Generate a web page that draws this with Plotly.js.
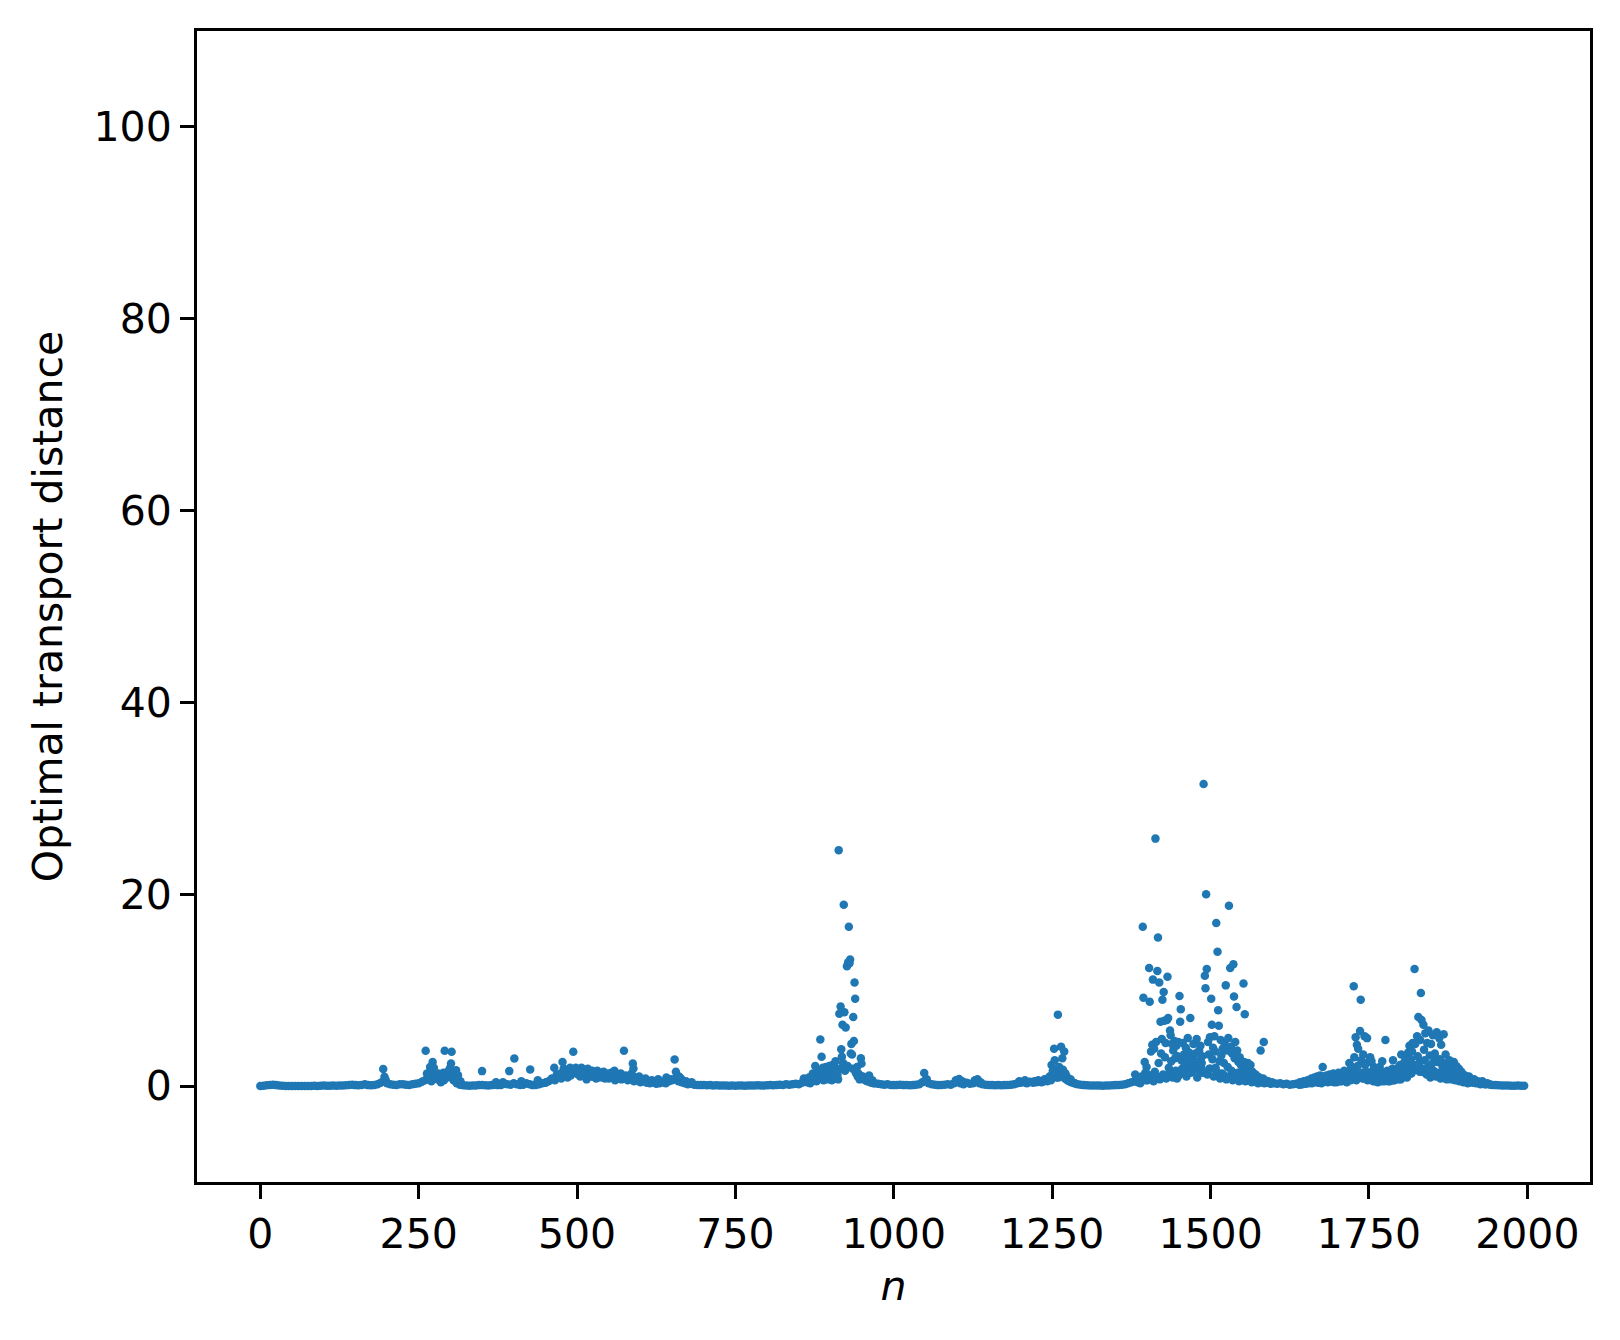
<!DOCTYPE html>
<html>
<head>
<meta charset="utf-8">
<script src="https://cdn.plot.ly/plotly-3.0.1.min.js"></script>
<style>html,body{margin:0;padding:0;background:#fff;}#chart{width:1620px;height:1340px;}</style>
</head>
<body>
<div id="chart"></div>
<script>
// [n, optimal transport distance] pairs
const baseline = [
[0,0.02],[5,0.03],[10,0.08],[15,0.12],[20,0.15],[25,0.1],[30,0.05],[35,0.03],[40,0.02],[45,0.02],
[50,0.01],[55,0.02],[60,0.02],[65,0.01],[70,0.02],[75,0.01],[80,0.02],[85,0.03],[90,0.02],[95,0.03],
[100,0.05],[105,0.04],[110,0.03],[115,0.05],[120,0.04],[125,0.06],[130,0.05],[135,0.08],[140,0.12],[145,0.15],
[150,0.1],[155,0.08],[160,0.12],[165,0.18],[170,0.1],[175,0.08],[180,0.12],[185,0.2],[190,0.35],[195,0.55],
[200,0.3],[205,0.2],[210,0.15],[215,0.12],[220,0.2],[225,0.18],[230,0.15],[235,0.12],[240,0.2],[245,0.25],
[250,0.3],[255,0.45],[260,0.6],[265,0.8],[270,0.5],[275,0.9],[280,0.7],[285,0.4],[290,0.6],[295,0.9],
[300,1.0],[305,0.6],[310,0.3],[315,0.15],[320,0.08],[325,0.05],[330,0.04],[335,0.05],[340,0.06],[345,0.1],
[350,0.12],[355,0.08],[360,0.05],[365,0.1],[370,0.15],[375,0.1],[380,0.12],[385,0.25],[390,0.2],[395,0.15],
[400,0.3],[405,0.2],[410,0.12],[415,0.15],[420,0.3],[425,0.2],[430,0.1],[435,0.12],[440,0.2],[445,0.3],
[450,0.35],[455,0.5],[460,0.8],[465,0.6],[470,1.0],[475,0.8],[480,1.2],[485,0.9],[490,1.1],[495,1.4],
[500,1.3],[505,1.0],[510,1.5],[515,0.7],[520,1.2],[525,1.0],[530,0.8],[535,1.2],[540,0.9],[545,1.1],
[550,0.8],[555,1.3],[560,0.6],[565,1.0],[570,0.7],[575,0.9],[580,0.6],[585,0.8],[590,0.5],[595,0.6],
[600,0.4],[605,0.5],[610,0.35],[615,0.3],[620,0.4],[625,0.25],[630,0.3],[635,0.4],[640,0.3],[645,0.5],
[650,0.6],[655,0.8],[660,0.5],[665,0.4],[670,0.3],[675,0.2],[680,0.25],[685,0.15],[690,0.12],[695,0.1],
[700,0.12],[705,0.08],[710,0.1],[715,0.06],[720,0.08],[725,0.05],[730,0.06],[735,0.05],[740,0.04],[745,0.05],
[750,0.04],[755,0.05],[760,0.06],[765,0.04],[770,0.05],[775,0.06],[780,0.05],[785,0.08],[790,0.06],[795,0.05],
[800,0.08],[805,0.1],[810,0.08],[815,0.12],[820,0.15],[825,0.12],[830,0.18],[835,0.15],[840,0.2],[845,0.25],
[850,0.2],[855,0.35],[860,0.5],[865,0.4],[870,0.6],[875,0.9],[880,0.7],[885,1.2],[890,0.9],[895,1.6],
[900,1.3],[905,2.0],[910,1.5],[915,1.8],[920,2.4],[925,1.9],[930,12.8],[935,1.8],[940,1.4],[945,1.0],
[950,0.8],[955,0.6],[960,0.5],[965,0.35],[970,0.3],[975,0.25],[980,0.2],[985,0.15],[990,0.2],[995,0.12],
[1000,0.1],[1005,0.12],[1010,0.15],[1015,0.1],[1020,0.12],[1025,0.08],[1030,0.1],[1035,0.15],[1040,0.2],[1045,0.4],
[1050,0.6],[1055,0.3],[1060,0.2],[1065,0.15],[1070,0.1],[1075,0.12],[1080,0.15],[1085,0.2],[1090,0.15],[1095,0.3],
[1100,0.5],[1105,0.3],[1110,0.2],[1115,0.35],[1120,0.25],[1125,0.3],[1130,0.45],[1135,0.3],[1140,0.2],[1145,0.15],
[1150,0.12],[1155,0.1],[1160,0.08],[1165,0.1],[1170,0.08],[1175,0.1],[1180,0.12],[1185,0.15],[1190,0.2],[1195,0.3],
[1200,0.35],[1205,0.4],[1210,0.3],[1215,0.45],[1220,0.35],[1225,0.4],[1230,0.5],[1235,0.45],[1240,0.6],[1245,0.8],
[1250,1.2],[1255,1.0],[1260,0.9],[1265,1.4],[1270,0.8],[1275,0.6],[1280,0.4],[1285,0.3],[1290,0.2],[1295,0.15],
[1300,0.1],[1305,0.08],[1310,0.06],[1315,0.05],[1320,0.06],[1325,0.05],[1330,0.04],[1335,0.05],[1340,0.06],[1345,0.08],
[1350,0.1],[1355,0.12],[1360,0.15],[1365,0.2],[1370,0.3],[1375,0.4],[1380,0.5],[1385,0.4],[1390,0.6],[1395,0.8],
[1400,0.6],[1405,0.9],[1410,0.5],[1415,1.0],[1420,0.7],[1425,1.2],[1430,0.8],[1435,1.4],[1440,0.9],[1445,1.6],
[1450,1.1],[1455,1.8],[1460,1.3],[1465,2.0],[1470,1.5],[1475,2.2],[1480,1.7],[1485,2.0],[1490,1.4],[1495,1.2],
[1500,1.8],[1505,1.0],[1510,1.5],[1515,0.8],[1520,1.2],[1525,0.7],[1530,1.0],[1535,0.6],[1540,0.9],[1545,0.5],
[1550,0.8],[1555,0.5],[1560,0.6],[1565,0.4],[1570,0.5],[1575,0.3],[1580,0.4],[1585,0.3],[1590,0.35],[1595,0.25],
[1600,0.3],[1605,0.25],[1610,0.3],[1615,0.2],[1620,0.25],[1625,0.15],[1630,0.2],[1635,0.25],[1640,0.15],[1645,0.2],
[1650,0.25],[1655,0.3],[1660,0.3],[1665,0.4],[1670,0.35],[1675,0.3],[1680,0.45],[1685,0.4],[1690,0.5],[1695,0.4],
[1700,0.6],[1705,0.5],[1710,0.6],[1715,0.4],[1720,0.7],[1725,0.9],[1730,0.6],[1735,1.1],[1740,0.8],[1745,1.0],
[1750,0.7],[1755,0.9],[1760,0.5],[1765,0.8],[1770,0.5],[1775,0.6],[1780,0.5],[1785,0.7],[1790,0.6],[1795,0.8],
[1800,0.7],[1805,1.0],[1810,0.9],[1815,1.3],[1820,1.6],[1825,2.0],[1830,1.5],[1835,1.8],[1840,1.3],[1845,1.6],
[1850,1.2],[1855,1.4],[1860,1.0],[1865,1.2],[1870,0.8],[1875,1.0],[1880,0.7],[1885,0.8],[1890,0.6],[1895,0.7],
[1900,0.5],[1905,0.55],[1910,0.4],[1915,0.35],[1920,0.4],[1925,0.25],[1930,0.3],[1935,0.2],[1940,0.18],[1945,0.12],
[1950,0.1],[1955,0.08],[1960,0.06],[1965,0.05],[1970,0.05],[1975,0.04],[1980,0.04],[1985,0.05],[1990,0.04],[1995,0.03]
];

const cluster250 = [
[194,1.77],[196,0.98],[198,0.6],[261,3.68],[263,1.3],[266,1.0],[268,2.0],[271,1.5],[272,2.5],[274,1.9],
[277,1.2],[279,0.8],[281,1.3],[284,1.1],[287,0.9],[289,1.4],[291,3.68],[293,1.0],[296,1.5],[299,1.84],
[301,2.36],[302,3.57],[304,1.2],[307,0.8],[309,1.66],[312,1.14],[316,0.5],
[350,1.56],[372,0.4],[383,0.4],[393,1.56],[401,2.88],[412,0.5],[426,1.73],[438,0.6],[451,0.4]
];

const cluster500 = [
[464,1.9],[468,1.2],[472,0.9],[474,1.3],[477,2.5],[479,1.84],[483,1.4],[486,1.1],[488,1.6],[489,1.9],
[492,1.5],[494,3.57],[497,1.7],[498,1.9],[502,1.2],[504,1.6],[507,1.9],[509,1.1],[512,1.7],[514,1.3],
[517,1.8],[519,1.5],[522,1.0],[524,1.6],[527,1.3],[529,1.1],[532,1.6],[534,0.9],[537,1.4],[539,1.2],
[542,1.5],[544,0.8],[547,1.1],[549,1.3],[552,0.9],[554,1.4],[557,1.0],[559,1.6],[562,1.2],[564,0.8],
[567,1.0],[569,1.3],[572,0.9],[574,3.68],[577,1.1],[579,1.0],[583,0.7],[586,1.3],[588,2.36],[589,1.84],
[593,0.9],[596,0.7],[598,1.0],
[608,0.8],[618,0.6],[628,0.7],[641,0.9],[648,0.7],[654,2.77],[656,1.5],[661,1.0],[664,0.8],[672,0.5],[681,0.4]
];

const peak900 = [
[858,0.8],[863,0.4],[866,0.9],[868,0.3],[872,1.3],[876,2.1],[878,0.5],[881,1.6],[884,4.85],[886,3.05],
[888,1.9],[889,0.6],[891,1.2],[893,2.0],[894,0.7],[896,1.5],[897,0.9],[898,2.1],[899,1.8],[901,1.0],
[902,0.6],[903,2.2],[904,1.4],[906,1.9],[907,0.8],[908,2.6],[909,1.6],[911,1.2],[912,0.7],[913,24.6],
[914,7.55],[916,8.3],[917,3.85],[918,3.05],[919,6.4],[921,18.9],[922,7.7],[923,1.6],[924,6.1],[926,12.5],
[927,2.1],[928,12.9],[929,16.6],[931,13.2],[932,3.4],[933,4.4],[934,3.3],[936,7.2],[937,4.7],[938,10.8],
[939,9.1],[941,1.3],[942,2.0],[943,1.0],[944,1.3],[946,0.7],[947,1.1],[948,2.9],[949,2.35],[951,1.0],
[953,0.9],[956,0.7],[958,0.5],[961,1.1],[963,0.4],[966,0.6],[968,0.3]
];

const bump1250 = [
[1048,1.37],[1052,0.7],[1098,0.6],[1103,0.75],[1108,0.5],[1128,0.6],[1132,0.7],[1137,0.4],
[1198,0.5],[1207,0.6],[1213,0.4],[1222,0.5],[1228,0.6],[1233,0.4],[1238,0.7],
[1242,0.5],[1244,0.7],[1246,1.0],[1248,0.6],[1249,2.2],[1251,1.6],[1252,1.1],[1253,3.9],[1254,2.7],[1256,1.3],
[1257,0.9],[1258,1.8],[1259,7.45],[1261,2.0],[1262,1.5],[1263,1.3],[1264,4.1],[1266,2.9],[1267,1.7],[1268,1.1],
[1269,3.6],[1271,1.3],[1272,0.8],[1273,1.0],[1274,0.6],[1277,0.5],[1279,0.7],[1282,0.4],[1286,0.3]
];

const cluster1500 = [
[1381,1.2],[1384,0.5],[1387,0.9],[1389,0.3],[1391,1.0],[1393,16.6],[1394,9.2],[1396,2.5],[1397,1.4],[1398,0.6],
[1399,2.0],[1401,1.2],[1402,0.8],[1403,12.3],[1404,8.8],[1406,3.6],[1407,1.1],[1408,4.3],[1409,11.1],[1411,3.9],
[1412,1.5],[1413,25.8],[1414,4.6],[1416,12.0],[1417,15.5],[1418,2.4],[1419,10.8],[1421,6.7],[1422,3.4],[1423,4.9],
[1424,9.0],[1426,9.8],[1427,6.8],[1428,3.0],[1429,4.5],[1431,6.9],[1432,11.4],[1433,7.1],[1434,1.9],[1436,5.8],
[1437,5.3],[1438,2.6],[1439,4.4],[1441,3.7],[1442,1.2],[1443,4.7],[1444,2.9],[1446,4.2],[1447,0.8],[1448,3.1],
[1449,4.6],[1451,9.4],[1452,6.7],[1453,8.0],[1454,2.7],[1456,4.5],[1457,1.6],[1458,3.3],[1459,2.2],[1461,4.0],
[1462,1.0],[1463,2.9],[1464,5.0],[1466,3.5],[1467,2.4],[1468,7.1],[1469,1.4],[1471,3.0],[1472,2.2],[1473,4.4],
[1474,1.7],[1476,3.4],[1477,2.1],[1478,4.9],[1479,0.9],[1481,2.6],[1482,3.7],[1483,1.9],[1484,4.2],[1486,2.4],
[1487,3.1],[1488,1.4],[1489,31.5],[1491,11.5],[1492,10.2],[1493,20.0],[1494,12.2],[1496,4.6],[1497,3.3],[1498,1.8],
[1499,5.1],[1501,9.1],[1502,6.4],[1503,2.8],[1504,4.0],[1506,5.2],[1507,3.6],[1508,1.9],[1509,17.0],[1511,14.0],
[1512,7.9],[1513,6.3],[1514,2.6],[1516,4.8],[1517,3.2],[1518,1.3],[1519,3.9],[1521,2.4],[1522,4.5],[1523,1.0],
[1524,10.5],[1526,3.7],[1527,2.0],[1528,5.0],[1529,18.8],[1531,12.3],[1532,4.1],[1533,1.6],[1534,3.4],[1536,12.7],
[1537,9.35],[1538,2.9],[1539,4.6],[1541,8.25],[1542,3.7],[1543,1.4],[1544,2.5],[1546,3.0],[1547,1.1],[1548,2.2],
[1549,0.7],[1551,1.9],[1552,10.7],[1553,2.5],[1554,7.5],[1556,1.3],[1557,2.0],[1558,0.8],[1559,2.4],[1561,1.6],
[1562,1.0],[1563,2.2],[1564,0.6],[1566,1.5],[1567,0.9],[1568,1.3],[1569,0.5],[1571,1.2],[1572,0.7],[1574,1.0],
[1576,0.6],[1577,0.9],[1579,3.7],[1581,0.5],[1583,0.8],[1584,4.6],[1586,0.6],[1588,0.4],[1591,0.5],[1594,0.3],[1597,0.4]
];

const cluster1800 = [
[1641,0.4],[1643,0.2],[1647,0.5],[1651,0.3],[1653,0.6],[1657,0.4],[1659,0.8],[1662,0.5],[1664,0.9],[1667,0.6],
[1668,1.0],[1671,0.7],[1673,1.1],[1674,0.4],[1676,0.8],[1677,2.0],[1679,1.0],[1681,0.5],[1683,1.1],[1684,0.6],
[1686,0.9],[1688,1.2],[1689,0.5],[1691,1.0],[1693,0.7],[1694,1.3],[1696,0.6],[1698,1.1],[1699,0.4],[1701,0.8],
[1702,1.4],[1704,0.6],[1706,1.0],[1707,0.5],[1708,1.3],[1709,0.9],[1711,1.6],[1712,0.7],[1714,1.1],[1716,0.5],
[1717,1.4],[1718,0.8],[1719,2.4],[1721,0.6],[1722,1.9],[1723,2.0],[1724,1.2],[1726,10.4],[1727,3.0],[1728,1.5],
[1729,5.1],[1731,4.3],[1732,2.1],[1733,3.9],[1734,1.0],[1736,5.75],[1737,9.0],[1738,2.7],[1739,1.4],[1741,3.3],
[1742,0.8],[1743,5.2],[1744,2.2],[1746,1.5],[1747,5.0],[1748,0.6],[1749,2.5],[1751,1.2],[1752,3.0],[1753,0.9],
[1754,2.6],[1756,1.6],[1757,0.5],[1758,2.0],[1759,1.1],[1761,1.8],[1762,0.7],[1763,1.4],[1764,0.4],[1766,1.2],
[1767,2.0],[1768,0.6],[1769,1.5],[1771,2.6],[1772,0.9],[1773,1.3],[1774,0.5],[1776,4.8],[1777,1.1],[1778,0.7],
[1779,1.6],[1781,0.8],[1782,1.4],[1783,0.5],[1784,1.2],[1786,0.9],[1787,1.8],[1788,2.7],[1789,0.6],[1791,1.3],
[1792,0.8],[1793,1.6],[1794,1.0],[1796,1.9],[1797,0.7],[1798,1.5],[1799,2.2],[1801,3.3],[1802,1.2],[1803,2.0],
[1804,0.9],[1806,2.5],[1807,1.4],[1808,3.0],[1809,1.1],[1811,2.3],[1812,3.5],[1813,1.7],[1814,4.2],[1816,2.8],
[1817,1.3],[1818,3.6],[1819,4.5],[1821,2.2],[1822,12.2],[1823,4.4],[1824,1.8],[1826,5.2],[1827,3.1],[1828,7.2],
[1829,2.4],[1831,4.8],[1832,9.7],[1833,6.9],[1834,1.5],[1836,6.4],[1837,3.8],[1838,2.7],[1839,5.5],[1841,1.2],
[1842,4.5],[1843,2.0],[1844,5.8],[1846,3.2],[1847,0.9],[1848,4.4],[1849,2.3],[1851,5.3],[1852,1.6],[1853,3.0],
[1854,3.4],[1856,1.0],[1857,5.6],[1858,2.5],[1859,1.4],[1861,5.0],[1862,2.8],[1863,0.8],[1864,4.3],[1866,2.1],
[1867,1.7],[1868,5.4],[1869,1.1],[1871,3.3],[1872,2.4],[1873,0.7],[1874,2.0],[1876,1.3],[1877,2.7],[1878,0.9],
[1879,1.8],[1881,2.2],[1882,1.0],[1883,1.6],[1884,2.5],[1886,0.6],[1887,1.4],[1888,2.1],[1889,0.8],[1891,1.2],
[1892,1.8],[1893,0.5],[1894,1.0],[1896,1.5],[1897,0.7],[1898,1.2],[1899,0.4],[1901,0.9],[1902,1.1],[1903,0.5],
[1904,0.8],[1906,0.3],[1908,1.0],[1911,0.6],[1913,0.4],[1916,0.7],[1919,0.3],[1922,0.5],[1926,0.2],[1929,0.5],
[1933,0.2],[1937,0.3],[1942,0.15]
];

const xTicks = [0, 250, 500, 750, 1000, 1250, 1500, 1750, 2000];
const yTicks = [0, 20, 40, 60, 80, 100];
const xLabel = '<i>n</i>';
const yLabel = 'Optimal transport distance';

const allPoints = [].concat(baseline, cluster250, cluster500, peak900, bump1250, cluster1500, cluster1800)
  .sort((a, b) => a[0] - b[0]);

const font = {family: 'DejaVu Sans, sans-serif', size: 41, color: '#000'};
const axisCommon = {
  showgrid: false, zeroline: false, showline: true, mirror: true,
  linecolor: '#000', linewidth: 3,
  ticks: 'outside', ticklen: 14, tickwidth: 3, tickcolor: '#000',
  tickfont: font
};

Plotly.newPlot('chart', [{
  type: 'scatter', mode: 'markers',
  x: allPoints.map(p => p[0]),
  y: allPoints.map(p => p[1]),
  marker: {color: '#1f77b4', size: 8.5, line: {width: 0}},
  hoverinfo: 'x+y'
}], {
  width: 1620, height: 1340,
  paper_bgcolor: '#fff', plot_bgcolor: '#fff',
  margin: {l: 197, r: 30, t: 31, b: 158, pad: 0},
  showlegend: false,
  font: font,
  xaxis: Object.assign({}, axisCommon, {
    range: [-99.95, 2098.95], tickvals: xTicks, ticktext: xTicks.map(String),
    title: {text: xLabel, font: font, standoff: 15}
  }),
  yaxis: Object.assign({}, axisCommon, {
    range: [-10, 110], tickvals: yTicks, ticktext: yTicks.map(String),
    title: {text: yLabel, font: font, standoff: 19}
  })
}, {staticPlot: true});
</script>
</body>
</html>
